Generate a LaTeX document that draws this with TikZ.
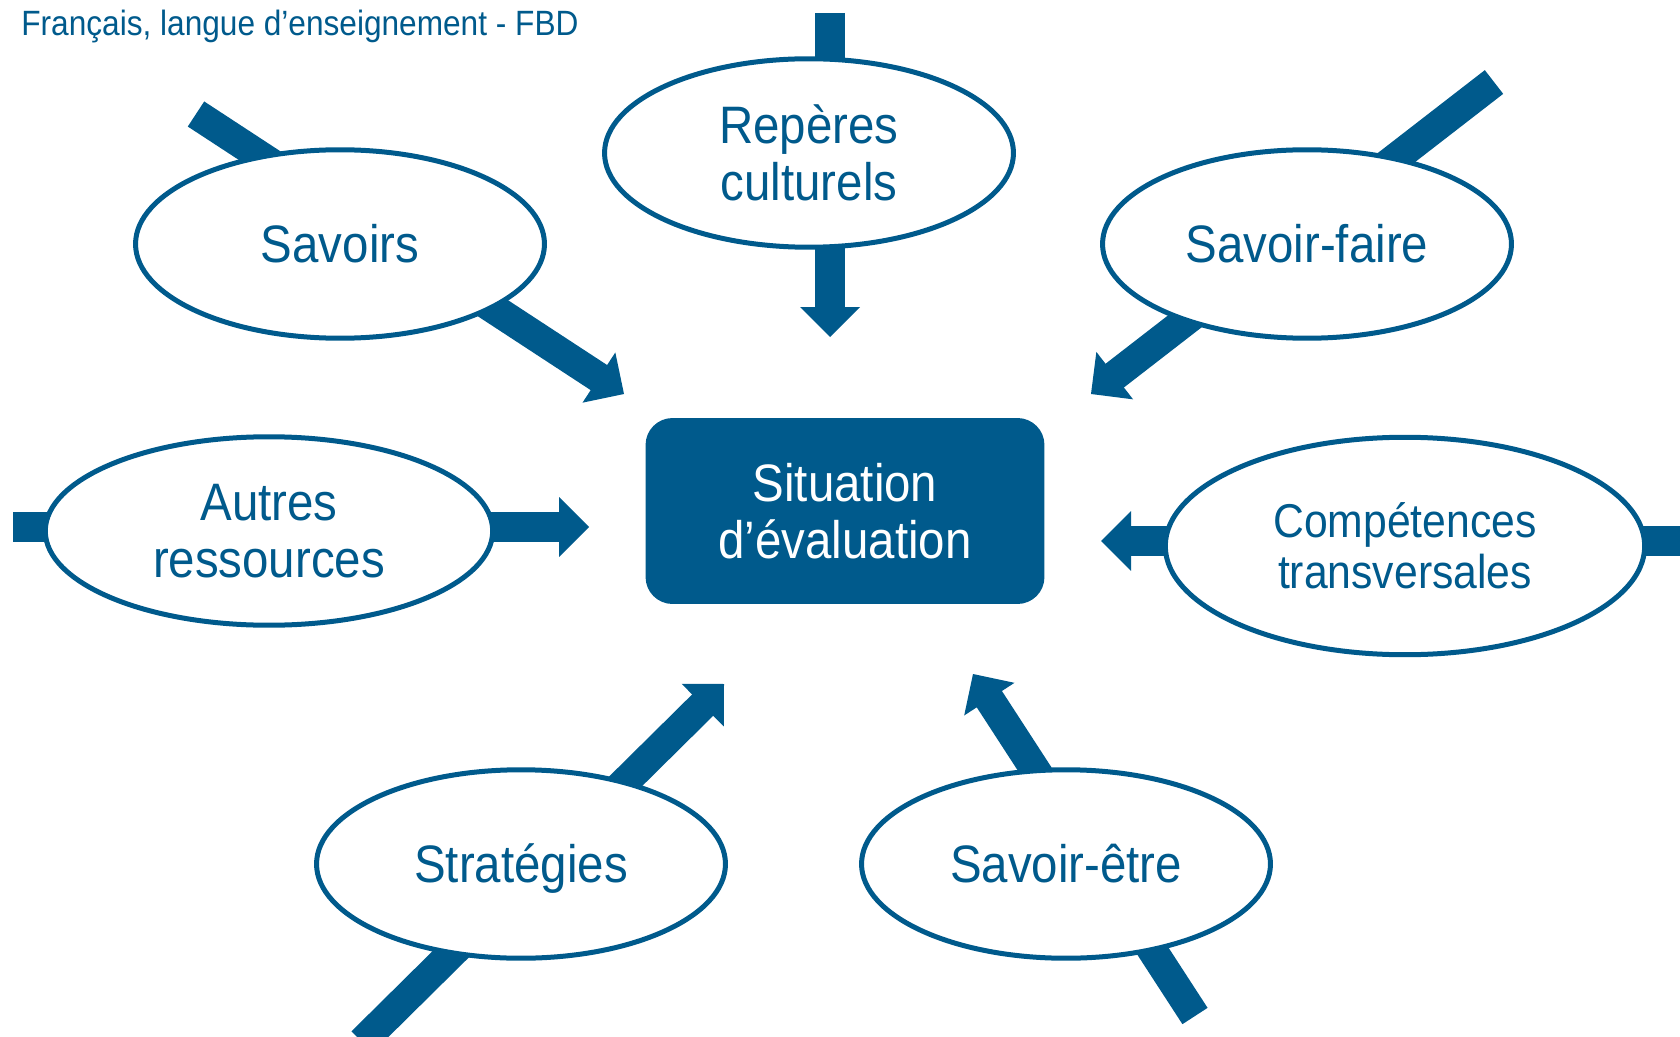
\documentclass[tikz,border=0pt]{standalone}
\usepackage{fontspec}
\setmainfont{Liberation Sans}[FakeStretch=0.9]
\usetikzlibrary{shapes.geometric,calc}

% Changing color 0 90 140
\definecolor{r0g90b140}{RGB}{0,90,140}

\tikzset{
  bubble/.style={ellipse, draw=r0g90b140, line width=0.1cm, fill=white,
    inner sep=0pt, text=r0g90b140, align=center,
    minimum width=8.18cm, minimum height=3.77cm,
    font=\fontsize{30}{32.5}\selectfont},
  oneline/.style={text height=21.5pt, text depth=0pt},
  situationbox/.style={rectangle, rounded corners=0.54cm, fill=r0g90b140,
    text=white, align=center, minimum width=7.98cm, minimum height=3.72cm,
    font=\fontsize{30}{32.5}\selectfont},
  shaft/.style={draw=r0g90b140, line width=0.6cm},
  head/.style={fill=r0g90b140}
}

% block arrow from #1 to the tip #2
\newcommand{\blockarrow}[2]{%
  \coordinate (hb) at ($(#2)!0.6cm!(#1)$);
  \draw[shaft] (#1) -- ($(#2)!0.55cm!(#1)$);
  \fill[head] (#2) -- ($(hb)!0.6cm!90:(#2)$) -- ($(hb)!0.6cm!-90:(#2)$) -- cycle;}

\begin{document}
\begin{tikzpicture}[x=0.02cm,y=-0.02cm]
\useasboundingbox (0,0) rectangle (1680,1037);

% Subtitle
\node[anchor=base west, inner sep=0pt, text=r0g90b140,
  font=\fontsize{20}{24}\selectfont] (subtitle) at (21,36)
  {Français, langue d’enseignement - FBD};

% Arrow end points
\coordinate (reperes-in) at (830,13);
\coordinate (reperes-out) at (830,337);
\coordinate (savoirs-in) at (196,114);
\coordinate (savoirs-out) at (624,394);
\coordinate (faire-in) at (1494,82);
\coordinate (faire-out) at (1091,394);
\coordinate (autres-in) at (13,527);
\coordinate (autres-out) at (589,527);
\coordinate (comp-in) at (1690,541);
\coordinate (comp-out) at (1101,541);
\coordinate (strat-in) at (362,1042);
\coordinate (strat-out) at (724,684);
\coordinate (etre-in) at (1195,1016);
\coordinate (etre-out) at (973,674);

% Drawing arrows
\blockarrow{reperes-in}{reperes-out}
\blockarrow{savoirs-in}{savoirs-out}
\blockarrow{faire-in}{faire-out}
\blockarrow{autres-in}{autres-out}
\blockarrow{comp-in}{comp-out}
\blockarrow{strat-in}{strat-out}
\blockarrow{etre-in}{etre-out}

% Ellipses
\node[bubble] (reperes) at (809,153) {Repères\\culturels};
\node[bubble, oneline] (savoirs) at (340,244) {Savoirs};
\node[bubble, oneline] (faire) at (1307,244) {Savoir-faire};
\node[bubble, minimum width=8.95cm] (autres) at (269,531) {Autres\\ressources};
\node[bubble, minimum width=9.59cm, minimum height=4.35cm,
  font=\fontsize{27}{29.3}\selectfont] (comp) at (1405,546)
  {Compétences\\transversales};
\node[bubble, oneline] (strat) at (521,864) {Stratégies};
\node[bubble, oneline] (etre) at (1066,864) {Savoir-être};

% Centre box
\node[situationbox] (situation) at (845,511) {Situation\\d’évaluation};
\end{tikzpicture}
\end{document}
